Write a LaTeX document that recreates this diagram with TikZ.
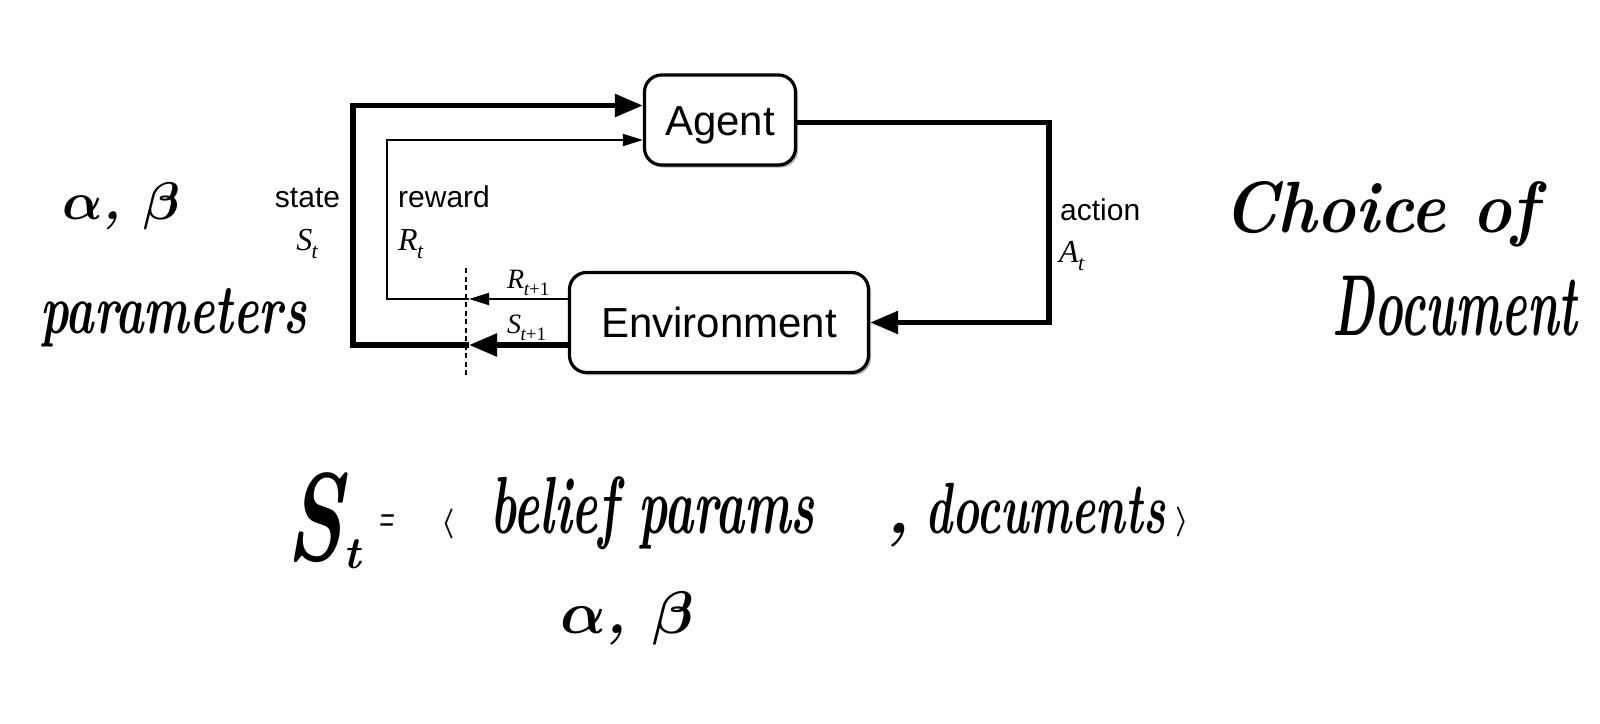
\RequirePackage{fix-cm}
\documentclass[tikz,border=0pt]{standalone}
\usepackage{fontspec}
\setmainfont{Liberation Sans}
\newfontfamily\tms{Liberation Serif}
\newfontfamily\handfont{Latin Modern Roman}
\usetikzlibrary{arrows.meta,shadows}
\newcommand\tsub[2]{{\tms\itshape #1\kern-0.02em\raisebox{-0.28em}{\scalebox{0.68}{#2}}}}
\newcommand\handtxt[3]{\scalebox{#1}[#2]{#3}}
\begin{document}
\begin{tikzpicture}[x=1pt,y=-1pt,
  box/.style={draw, line width=3.2pt, rounded corners=17pt, inner sep=0pt,
    fill=white, text height=30pt, text depth=0pt,
    font=\fontsize{42}{44}\selectfont,
    drop shadow={shadow xshift=2.5pt,shadow yshift=-2.5pt,opacity=0.3,fill=black}},
  thickarrow/.style={line width=5.5pt, -{Triangle[length=28pt,width=22pt]}},
  thinarrow/.style={line width=2pt, -{Triangle[length=20pt,width=12pt]}},
  lbl/.style={font=\fontsize{30}{32}\selectfont, inner sep=0pt},
  mlbl/.style={font=\fontsize{32}{34}\selectfont, inner sep=0pt},
  slbl/.style={font=\fontsize{28}{30}\selectfont, inner sep=0pt},
  hand/.style={inner sep=0pt, anchor=base west, font=\handfont\bfseries\itshape\boldmath\fontsize{#1}{#1}\selectfont},
]
\useasboundingbox (0,0) rectangle (1600,723);

% boxes
\node[box, minimum width=151pt, minimum height=90pt] (Agent) at (720,120) {Agent};
\node[box, minimum width=299pt, minimum height=100pt] (Env) at (719,322.5) {Environment};

% dashed separator
\coordinate (dtop) at (466,268);
\coordinate (dbot) at (466,375);
\draw[line width=1.2pt, dash pattern=on 5pt off 3.5pt] (dtop) -- (dbot);

% connectors
\coordinate (rtip) at (469,299);
\coordinate (stip) at (469,345);
\draw[thinarrow] ([yshift=23.5pt]Env.west) -- (rtip);
\draw[thickarrow] ([yshift=-22.5pt]Env.west) -- (stip);
\draw[thinarrow] (rtip) -- ++(-82,0) |- ([yshift=-20pt]Agent.west);
\draw[thickarrow] (stip) -- ++(-116,0) |- ([yshift=14.5pt]Agent.west);
\draw[thickarrow] ([yshift=-2.5pt]Agent.east) -- ++(252,0) |- (Env.east);

% labels
\node[lbl, anchor=base] (lstate) at (307.5,207) {state};
\node[mlbl, anchor=base] (lSt) at (307,250) {\tsub{S}{t}};
\node[lbl, anchor=base west] (lreward) at (398,207) {reward};
\node[mlbl, anchor=base west] (lRt) at (398,250) {\tsub{R}{t}};
\node[lbl, anchor=base west] (laction) at (1060,220) {action};
\node[mlbl, anchor=base west] (lAt) at (1059,262) {\tsub{A}{t}};
\node[slbl, anchor=base west] (lR1) at (507,288) {\tsub{R}{t\upshape+1}};
\node[slbl, anchor=base west] (lS1) at (507,333) {\tsub{S}{t\upshape+1}};

% handwriting
\node[hand=53] (ab1) at (62,219) {$\alpha$, $\beta$};
\node[hand=54] (par) at (40,333) {\handtxt{0.89}{1.3}{parameters}};
\node[hand=66] (choice) at (1223,232) {\handtxt{1.0}{1.1}{Choice of}};
\node[hand=72] (doc) at (1332,335) {\handtxt{0.67}{1.2}{Document}};
\node[hand=125] (St) at (286,560) {\handtxt{0.7}{1}{S}\raisebox{-8pt}{\fontsize{45}{45}\selectfont t}};
\node[hand=40] (eq) at (378,530) {\handtxt{0.45}{1}{=}};
\node[hand=30, anchor=center] (la) at (448,524) {$\langle$};
\node[hand=60] (bp) at (490,533) {\handtxt{0.82}{1.35}{belief params}};
\node[hand=70] (cm) at (885,533) {,};
\node[hand=50] (docs) at (925,533) {\handtxt{0.91}{1.45}{documents}};
\node[hand=30, anchor=center] (ra) at (1182,522) {$\rangle$};
\node[hand=60] (ab2) at (560,633) {$\alpha$, $\beta$};
\end{tikzpicture}
\end{document}
